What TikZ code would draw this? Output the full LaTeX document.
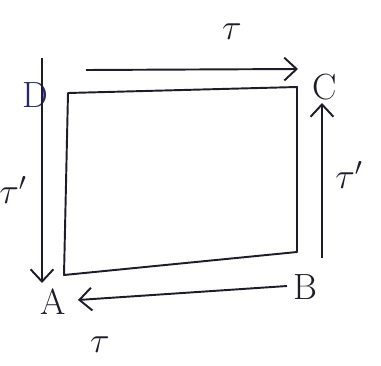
\documentclass[tikz,border=0pt]{standalone}
\usetikzlibrary{arrows.meta}
\definecolor{ink}{RGB}{28,28,42}
\definecolor{inkblue}{RGB}{40,40,110}

\begin{document}
\begin{tikzpicture}[
  side/.style={draw=ink, line width=1.1pt, line join=round},
  arr/.style={-{Straight Barb[length=7pt,width=13pt]}, line width=1.1pt, color=ink},
  corner/.style={font=\huge, text=ink, inner sep=1pt},
  lbl/.style={font=\huge, text=ink, inner sep=1pt}
]
  \useasboundingbox (0,0) rectangle (7.62,-7.30);

  % corners of the square
  \coordinate (tl) at (1.36,-1.86);
  \coordinate (tr) at (5.94,-1.74);
  \coordinate (br) at (5.94,-5.04);
  \coordinate (bl) at (1.28,-5.50);
  \draw[side] (tl) -- (tr) -- (br) -- (bl) -- cycle;

  % corner letters
  \node[corner, text=inkblue] (D) at (0.70,-1.90) {D};
  \node[corner] (C) at (6.50,-1.74) {C};
  \node[corner] (B) at (6.10,-5.74) {B};
  \node[corner] (A) at (1.06,-6.04) {A};

  % arrow ends
  \coordinate (top0) at (1.72,-1.40);
  \coordinate (top1) at (5.96,-1.38);
  \coordinate (rgt0) at (6.44,-5.16);
  \coordinate (rgt1) at (6.44,-2.06);
  \coordinate (lft0) at (0.84,-1.16);
  \coordinate (lft1) at (0.84,-5.66);
  \coordinate (bot0) at (5.74,-5.72);
  \coordinate (bot1) at (1.56,-6.00);

  \draw[arr] (top0) -- (top1);
  \draw[arr] (rgt0) -- (rgt1);
  \draw[arr] (lft0) -- (lft1);
  \draw[arr] (bot0) -- (bot1);

  % labels
  \node[lbl] (ttop) at (4.64,-0.64) {$\tau$};
  \node[lbl] (trgt) at (6.98,-3.50) {$\tau'$};
  \node[lbl] (tlft) at (0.26,-3.80) {$\tau'$};
  \node[lbl] (tbot) at (2.00,-6.90) {$\tau$};
\end{tikzpicture}
\end{document}
